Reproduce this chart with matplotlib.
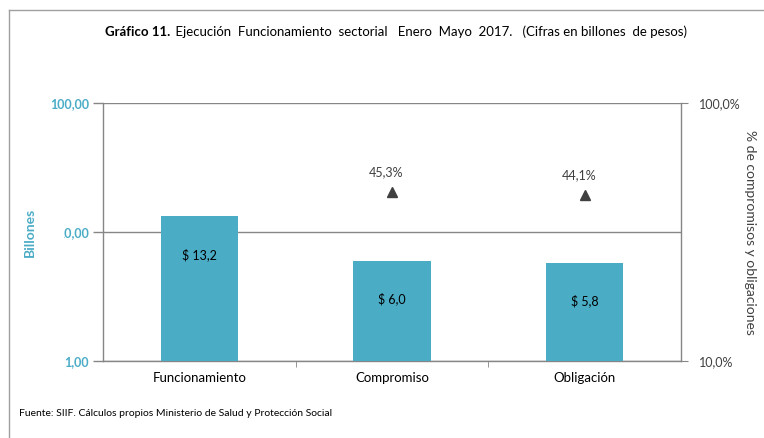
import matplotlib
matplotlib.use("Agg")
import matplotlib.pyplot as plt
from matplotlib.lines import Line2D
from matplotlib.transforms import Bbox
from matplotlib.ticker import FixedLocator, NullLocator, FixedFormatter

plt.rcParams['font.family'] = ['Lato', 'DejaVu Sans']

categories = ["Funcionamiento", "Compromiso", "Obligación"]
values = [13.2, 6.0, 5.8]
value_labels = ["$ 13,2", "$ 6,0", "$ 5,8"]
pct_categories = ["Compromiso", "Obligación"]
pcts = [0.453, 0.441]
pct_labels = ["45,3%", "44,1%"]
left_ticks = [1, 10, 100]
left_ticklabels = ["1,00", "10,00", "100,00"]
right_ticks = [0.1, 1.0]
right_ticklabels = ["10,0%", "100,0%"]

BLUE = "#4BACC6"
GRAY = "#868686"
DARK = "#404040"

fig = plt.figure(figsize=(7.64, 4.38), dpi=100)
W, H = 764, 438
ax = fig.add_axes([103 / W, 1 - 361 / H, (681 - 103) / W, (361 - 103) / H])

x = list(range(len(categories)))
ax.bar(x, values, width=0.40, color=BLUE, zorder=3)
ax.set_yscale('log')
ax.set_ylim(1, 100)
ax.set_xlim(-0.5, len(categories) - 0.5)

ax.yaxis.set_major_locator(FixedLocator(left_ticks))
ax.yaxis.set_major_formatter(FixedFormatter(left_ticklabels))
ax.yaxis.set_minor_locator(NullLocator())
ax.tick_params(axis='y', which='major', length=7, width=1, color=GRAY,
               labelcolor=BLUE, labelsize=9, pad=3)
for lbl in ax.get_yticklabels():
    lbl.set_fontweight('bold')
ax.grid(axis='y', which='major', color=GRAY, linewidth=1, zorder=0)

ax.set_xticks(x)
ax.set_xticklabels(categories, fontsize=9.5, color='black')
ax.xaxis.set_minor_locator(FixedLocator([0.5, 1.5]))
ax.tick_params(axis='x', which='major', length=0, pad=8)
ax.tick_params(axis='x', which='minor', length=4, color=GRAY)

for s in ['left', 'right', 'bottom']:
    ax.spines[s].set_color(GRAY)
    ax.spines[s].set_linewidth(1)
ax.spines['top'].set_visible(False)

ax.set_ylabel("Billones", color=BLUE, fontsize=10, fontweight='bold', va='center')
ax.yaxis.set_label_coords((30 - 103) / 578, 0.5)

for xi, v, t in zip(x, values, value_labels):
    ax.annotate(t, (xi, v), xytext=(0, -38), textcoords='offset pixels',
                ha='center', va='center', fontsize=9, color='black', zorder=4)

ax2 = ax.twinx()
ax2.set_yscale('log')
ax2.set_ylim(0.1, 1.0)
ax2.yaxis.set_major_locator(FixedLocator(right_ticks))
ax2.yaxis.set_major_formatter(FixedFormatter(right_ticklabels))
ax2.yaxis.set_minor_locator(NullLocator())
ax2.tick_params(axis='y', which='major', length=5, color=GRAY,
                labelcolor=DARK, labelsize=9, pad=8)
for s in ['left', 'right', 'bottom', 'top']:
    ax2.spines[s].set_visible(False)
px = [categories.index(c) for c in pct_categories]
ax2.plot(px, pcts, linestyle='none', marker='^', markersize=7, color=DARK, zorder=5)
for xi, p, t in zip(px, pcts, pct_labels):
    ax2.annotate(t, (xi, p), xytext=(-6, 20), textcoords='offset pixels',
                 ha='center', va='center', fontsize=9, color=DARK)
ax2.set_ylabel("% de compromisos y obligaciones", rotation=270, color=DARK,
               fontsize=10, va='center', ha='center')
ax2.yaxis.set_label_coords((750 - 103) / 578, 0.5)

fig.text(19 / W, 1 - 414 / H,
         "Fuente: SIIF. Cálculos propios Ministerio de Salud y Protección Social",
         ha='left', va='center', fontsize=7.5, color='black')

fig.add_artist(Line2D([9 / W, 1], [1 - 10 / H, 1 - 10 / H], color='#A0A0A0', lw=1))
fig.add_artist(Line2D([9 / W, 9 / W], [0, 1 - 10 / H], color='#A0A0A0', lw=1))

# Title: bold part + regular part, centred as a whole
fig.canvas.draw()
renderer = fig.canvas.get_renderer()
t_bold = fig.text(0, 1 - 32 / H, "Gráfico 11.", fontweight='bold', fontsize=9.5,
                  ha='left', va='center', color='black')
t_reg = fig.text(0, 1 - 32 / H,
                 " Ejecución  Funcionamiento  sectorial   Enero  Mayo  2017.   (Cifras en billones  de pesos)",
                 fontsize=9.5, ha='left', va='center', color='black')
wb = t_bold.get_window_extent(renderer).width
wr = t_reg.get_window_extent(renderer).width
x0 = 395 - (wb + wr) / 2
t_bold.set_x(x0 / W)
t_reg.set_x((x0 + wb + 2) / W)

# Clip the middle left tick label as in the reference
clipbox = Bbox.from_extents(64, 0, W, H)
for lbl in ax.get_yticklabels():
    if lbl.get_text() == "10,00":
        lbl.set_clip_box(clipbox)
        lbl.set_clip_on(True)

fig.savefig("out.png", dpi=100)
